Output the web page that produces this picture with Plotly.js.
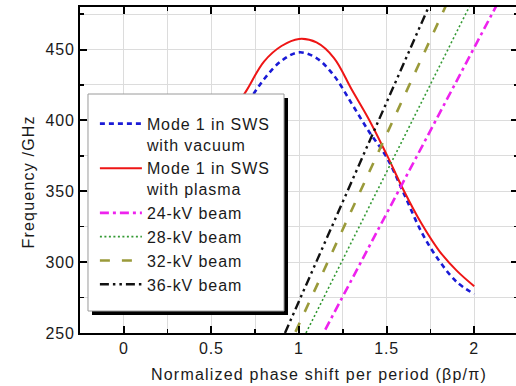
<!DOCTYPE html>
<html>
<head>
<meta charset="utf-8">
<script src="https://cdn.plot.ly/plotly-3.0.1.min.js"></script>
<style>
  html, body { margin: 0; padding: 0; overflow: hidden; background: #fff; }
  #chart { width: 518px; height: 386px; }
  svg text { letter-spacing: 0.9px; }
  svg text.annotation-text { letter-spacing: 1.2px; }
</style>
</head>
<body>
<div id="chart"></div>
<script>
// ---- data ----
const phaseX = [0.6, 0.7, 0.8, 0.9, 1.0, 1.1, 1.2, 1.3, 1.4, 1.5, 1.6, 1.7, 1.8, 1.9, 2.0];
const vacuumFreq = [392, 411, 429, 442, 448, 444, 431.5, 412, 392, 374, 348, 321, 301, 286, 277.5];
const plasmaFreq = [402, 421, 441.5, 452.5, 457.5, 455, 444, 422, 400.5, 376, 350, 327, 308, 294, 283];

const beam24X = [1.15, 2.2];
const beam24Y = [252.4, 498.1];
const beam28X = [1.04, 2.0];
const beam28Y = [250, 487.1];
const beam32X = [0.98, 1.9];
const beam32Y = [250.8, 497.4];
const beam36X = [0.92, 1.8];
const beam36Y = [250, 496.9];

const seriesNames = [
  'Mode 1 in SWS<br>with vacuum',
  'Mode 1 in SWS<br>with plasma',
  '24-kV beam',
  '28-kV beam',
  '32-kV beam',
  '36-kV beam'
];

const xTickVals = [0, 0.5, 1, 1.5, 2];
const xTickText = ['0', '0.5', '1', '1.5', '2'];
const yTickVals = [250, 300, 350, 400, 450];
const yTickText = ['250', '300', '350', '400', '450'];
const xTitle = 'Normalized phase shift per period (βp/π)';
const yTitle = 'Frequency /GHz';

const FONT = 'Liberation Sans, Arial, Helvetica, sans-serif';

const traces = [
  {x: phaseX, y: vacuumFreq, name: seriesNames[0], mode: 'lines',
   line: {color: '#1a1ad6', width: 2.6, dash: '5px,4px', shape: 'spline'}},
  {x: phaseX, y: plasmaFreq, name: seriesNames[1], mode: 'lines',
   line: {color: '#ee1515', width: 2, shape: 'spline'}},
  {x: beam24X, y: beam24Y, name: seriesNames[2], mode: 'lines',
   line: {color: '#ee22ee', width: 2.6, dash: '9px,4px,3px,4px'}},
  {x: beam28X, y: beam28Y, name: seriesNames[3], mode: 'lines',
   line: {color: '#339933', width: 1.6, dash: '2px,2.5px'}},
  {x: beam32X, y: beam32Y, name: seriesNames[4], mode: 'lines',
   line: {color: '#9a9a3a', width: 2.6, dash: '10px,12px'}},
  {x: beam36X, y: beam36Y, name: seriesNames[5], mode: 'lines',
   line: {color: '#111111', width: 2.4, dash: '9px,4px,2.5px,4px,2.5px,4px'}}
];

const gridCol = '#dcdcdc';
const axisCommon = {
  showline: true, linecolor: '#000', linewidth: 2, mirror: 'ticks',
  ticks: 'inside', ticklen: 7, tickwidth: 2, tickcolor: '#000',
  showgrid: true, gridcolor: gridCol, gridwidth: 1, zeroline: false,
  tickfont: {family: FONT, size: 16, color: '#1a1a1a'},
  tickmode: 'array'
};

const layout = {
  width: 518, height: 386,
  margin: {l: 80, r: 0, t: 7, b: 53},
  paper_bgcolor: '#fff', plot_bgcolor: '#fff',
  showlegend: true,
  xaxis: Object.assign({}, axisCommon, {
    range: [-0.25, 2.25], tickvals: xTickVals, ticktext: xTickText,
    minor: {tickmode: 'linear', tick0: 0, dtick: 0.25, ticks: 'inside', ticklen: 4,
            tickwidth: 1.5, tickcolor: '#000', showgrid: true, gridcolor: gridCol, gridwidth: 1}
  }),
  yaxis: Object.assign({}, axisCommon, {
    range: [250, 480], tickvals: yTickVals, ticktext: yTickText,
    minor: {tickmode: 'linear', tick0: 250, dtick: 25, ticks: 'inside', ticklen: 4,
            tickwidth: 1.5, tickcolor: '#000', showgrid: true, gridcolor: gridCol, gridwidth: 1}
  }),
  annotations: [
    {text: xTitle, xref: 'paper', yref: 'paper', x: 0.5468, y: -0.1258,
     xanchor: 'center', yanchor: 'middle', showarrow: false,
     font: {family: FONT, size: 16, color: '#1a1a1a'}},
    {text: yTitle, xref: 'paper', yref: 'paper', x: -0.1187, y: 0.4617, textangle: -90,
     xanchor: 'center', yanchor: 'middle', showarrow: false,
     font: {family: FONT, size: 16, color: '#1a1a1a'}}
  ],
  legend: {
    x: 0.034, xanchor: 'left', y: 0.694, yanchor: 'top',
    bgcolor: 'rgba(0,0,0,0)', borderwidth: 0,
    font: {family: FONT, size: 16, color: '#1a1a1a'},
    itemwidth: 42, valign: 'top', tracegroupgap: 0
  },
  shapes: [
    {type: 'rect', xref: 'paper', yref: 'paper', layer: 'above',
     x0: 0.0274, x1: 0.4749, y0: 0.0552, y1: 0.7209,
     fillcolor: '#000', line: {width: 0}},
    {type: 'rect', xref: 'paper', yref: 'paper', layer: 'above',
     x0: 0.01826, x1: 0.4658, y0: 0.06748, y1: 0.7331,
     fillcolor: '#fff', line: {color: '#9a9a9a', width: 1}}
  ]
};

Plotly.newPlot('chart', traces, layout, {staticPlot: true, displayModeBar: false});
</script>
</body>
</html>
